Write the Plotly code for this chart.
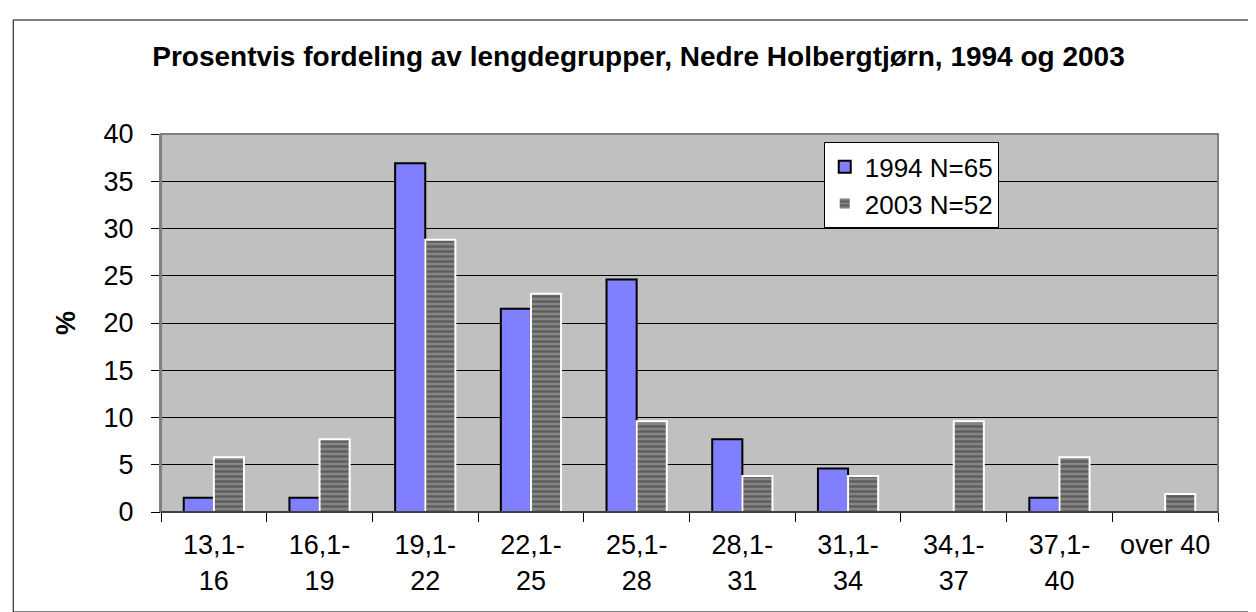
import plotly.graph_objects as go

categories = ["13,1-<br>16", "16,1-<br>19", "19,1-<br>22", "22,1-<br>25", "25,1-<br>28",
              "28,1-<br>31", "31,1-<br>34", "34,1-<br>37", "37,1-<br>40", "over 40"]
values_1994 = [1.5, 1.5, 36.9, 21.5, 24.6, 7.7, 4.6, 0, 1.5, 0]
values_2003 = [5.8, 7.7, 28.8, 23.1, 9.6, 3.8, 3.8, 9.6, 5.8, 1.9]
y_ticks = [0, 5, 10, 15, 20, 25, 30, 35, 40]

FONT = "Liberation Sans, Arial, sans-serif"

fig = go.Figure()
fig.add_trace(go.Bar(
    x=categories, y=values_1994, name="1994 N=65",
    marker=dict(color="#8080FF", line=dict(color="#000000", width=2)),
))
fig.add_trace(go.Bar(
    x=categories, y=values_2003, name="2003 N=52",
    marker=dict(color="#666666", line=dict(color="#FFFFFF", width=2),
                pattern=dict(shape="-", fgcolor="#383838", bgcolor="#858585",
                             size=5, solidity=0.5)),
))

fig.update_layout(
    width=1256, height=612,
    margin=dict(l=153, r=46, t=126, b=108),
    paper_bgcolor="#FFFFFF", plot_bgcolor="#C0C0C0",
    barmode="group", bargap=0.43, bargroupgap=0,
    font=dict(family=FONT, size=27, color="#000000"),
    title=dict(text="<b>Prosentvis fordeling av lengdegrupper, Nedre Holbergtjørn, 1994 og 2003</b>",
               x=0.502, xanchor="center", y=0.922, yanchor="middle",
               font=dict(family=FONT, size=28)),
    legend=dict(x=0.627, y=0.978, xanchor="left", yanchor="top",
                bgcolor="#FFFFFF", bordercolor="#000000", borderwidth=1,
                font=dict(family=FONT, size=26),
                itemwidth=30),
    xaxis=dict(type="category", showgrid=False, showline=True, linecolor="#000000",
               linewidth=1, ticks="outside", tickson="boundaries", ticklen=9,
               tickcolor="#000000", tickfont=dict(size=27), ticklabelstandoff=9),
    yaxis=dict(range=[0, 40], tickvals=y_ticks, showgrid=True, gridcolor="#000000",
               gridwidth=1, showline=True, linecolor="#808080", linewidth=2,
               ticks="outside", ticklen=8, tickcolor="#000000", zeroline=False,
               tickfont=dict(size=27), ticklabelstandoff=12,
               title=dict(text="<b>%</b>", font=dict(size=27), standoff=20)),
    shapes=[
        dict(type="rect", xref="paper", yref="paper", x0=0, x1=1, y0=0, y1=1,
             line=dict(color="#808080", width=2), layer="above"),
        dict(type="line", xref="paper", yref="paper", x0=0, x1=1, y0=0, y1=0,
             line=dict(color="#000000", width=1), layer="above"),
        dict(type="rect", xref="paper", yref="paper", x0=-0.1398, x1=1.0368,
             y0=-0.2646, y1=1.3016, line=dict(color="#000000", width=1)),
    ],
)

fig.write_html("out.html")
